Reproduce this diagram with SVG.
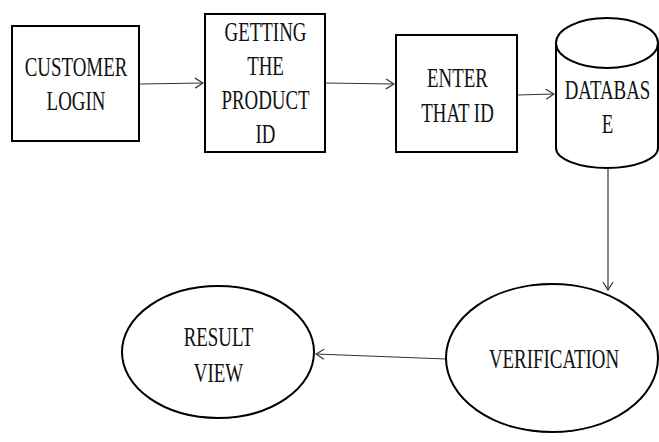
<svg xmlns="http://www.w3.org/2000/svg" width="659" height="442" viewBox="0 0 659 442">
<style>
.shape{fill:#fff;stroke:#000;stroke-width:2}
.lbl{font-family:"Liberation Serif","Times New Roman",serif;font-size:27px;fill:#111;text-anchor:middle}
.conn{stroke:#333;stroke-width:1.2;fill:none}
</style>
<defs>
<marker id="arr" markerWidth="10" markerHeight="12" refX="9" refY="6" orient="auto" markerUnits="userSpaceOnUse">
<path d="M1,1 L9,6 L1,11" fill="none" stroke="#333" stroke-width="1.2"/>
</marker>
</defs>
<rect width="659" height="442" fill="#fff"/>
<g id="connectors">
<line class="conn" x1="140" y1="84" x2="203" y2="83" marker-end="url(#arr)"/>
<line class="conn" x1="326" y1="83" x2="394" y2="84" marker-end="url(#arr)"/>
<line class="conn" x1="518" y1="95" x2="554" y2="94" marker-end="url(#arr)"/>
<line class="conn" x1="608" y1="169" x2="608" y2="290" marker-end="url(#arr)"/>
<line class="conn" x1="446" y1="359" x2="316" y2="354" marker-end="url(#arr)"/>
</g>
<g id="customer-login">
<rect class="shape" x="12" y="26" width="127" height="115"/>
<g transform="translate(76 0) scale(0.7 1)">
<text class="lbl" x="0" y="76">CUSTOMER</text>
<text class="lbl" x="0" y="110">LOGIN</text>
</g>
</g>
<g id="getting-product-id">
<rect class="shape" x="205" y="14" width="120" height="138"/>
<g transform="translate(265.5 0) scale(0.7 1)">
<text class="lbl" x="0" y="41">GETTING</text>
<text class="lbl" x="0" y="75">THE</text>
<text class="lbl" x="0" y="109">PRODUCT</text>
<text class="lbl" x="0" y="143">ID</text>
</g>
</g>
<g id="enter-that-id">
<rect class="shape" x="396" y="35" width="121" height="117"/>
<g transform="translate(457.5 0) scale(0.7 1)">
<text class="lbl" x="0" y="87">ENTER</text>
<text class="lbl" x="0" y="122">THAT ID</text>
</g>
</g>
<g id="database">
<path class="shape" d="M556,43 L556,148 A51,20 0 0 0 658,148 L658,43"/>
<ellipse class="shape" cx="607" cy="43" rx="51" ry="25"/>
<g transform="translate(607.5 0) scale(0.7 1)">
<text class="lbl" x="0" y="99">DATABAS</text>
<text class="lbl" x="0" y="133">E</text>
</g>
</g>
<g id="verification">
<ellipse class="shape" cx="552" cy="358" rx="106" ry="74"/>
<g transform="translate(554 0) scale(0.7 1)">
<text class="lbl" x="0" y="368">VERIFICATION</text>
</g>
</g>
<g id="result-view">
<ellipse class="shape" cx="218" cy="352" rx="96" ry="66"/>
<g transform="translate(218.5 0) scale(0.7 1)">
<text class="lbl" x="0" y="346">RESULT</text>
<text class="lbl" x="0" y="382">VIEW</text>
</g>
</g>
</svg>
